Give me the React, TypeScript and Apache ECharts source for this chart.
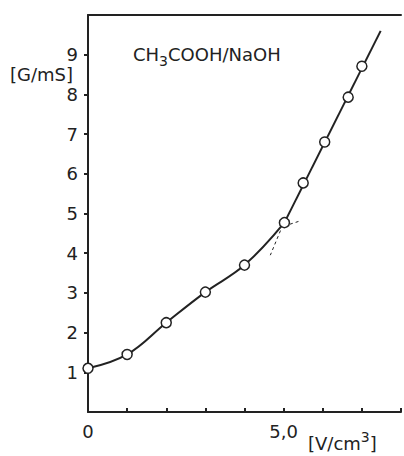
import React, { useEffect, useRef } from "react";
import * as echarts from "echarts";

const volume = [0, 1, 2, 3, 4, 5.02, 5.5, 6.05, 6.65, 7.0];
const conductance = [1.1, 1.45, 2.25, 3.02, 3.7, 4.77, 5.77, 6.8, 7.93, 8.71];
// end of the straight (post-equivalence) line
const steepEnd = [7.48, 9.6];
// short dashed extrapolations near the equivalence point
const steepExtension = [
  [4.92, 4.57],
  [4.66, 3.95],
];
const curveExtension = [
  [5.16, 4.73],
  [5.38, 4.8],
];
const xTickLabels: Record<number, string> = { 0: "0", 5: "5,0" };
const yTickLabels = [1, 2, 3, 4, 5, 6, 7, 8, 9];

const FONT = "'DejaVu Sans', sans-serif";
const INK = "#222";

export default function App() {
  const ref = useRef<HTMLDivElement>(null);
  useEffect(() => {
    if (!ref.current) return;
    const chart = echarts.init(ref.current, undefined, { renderer: "svg" });
    const points = volume.map((v, i) => [v, conductance[i]]);
    const lowerCurve = points.slice(0, 6);
    const steepLine = [points[5], steepEnd];
    chart.setOption({
      animation: false,
      backgroundColor: "#ffffff",
      title: {
        text: "{a|CH}{s|3}{a|COOH/NaOH}",
        left: 133,
        top: 45,
        padding: 0,
        textStyle: {
          fontWeight: "normal",
          rich: {
            a: { fontFamily: FONT, fontSize: 18, fontWeight: "normal", color: INK, lineHeight: 18, verticalAlign: "top" },
            s: { fontFamily: FONT, fontSize: 14, fontWeight: "normal", color: INK, lineHeight: 23, verticalAlign: "bottom" },
          },
        },
      },
      grid: { left: 88, right: 0, top: 15, bottom: 44 },
      xAxis: [
        {
          type: "value",
          min: 0,
          max: 8,
          interval: 1,
          axisLine: { show: true, lineStyle: { color: INK, width: 2 } },
          axisTick: { show: true, inside: true, length: 4, lineStyle: { color: INK, width: 2 } },
          axisLabel: {
            margin: 10,
            fontFamily: FONT,
            fontSize: 18,
            color: INK,
            formatter: (v: number) => xTickLabels[v] ?? "",
          },
          splitLine: { show: false },
        },
        {
          type: "value",
          position: "top",
          min: 0,
          max: 8,
          axisLine: { show: true, lineStyle: { color: INK, width: 2 } },
          axisTick: { show: false },
          axisLabel: { show: false },
          splitLine: { show: false },
        },
      ],
      yAxis: {
        type: "value",
        min: 0,
        max: 10,
        interval: 1,
        axisLine: { show: true, lineStyle: { color: INK, width: 2 } },
        axisTick: {
          show: true,
          inside: false,
          length: 4,
          customValues: yTickLabels,
          lineStyle: { color: INK, width: 2 },
        },
        axisLabel: {
          margin: 10,
          fontFamily: FONT,
          fontSize: 18,
          color: INK,
          formatter: (v: number) => (yTickLabels.includes(v) ? String(v) : ""),
        },
        splitLine: { show: false },
      },
      graphic: [
        {
          type: "text",
          left: 10,
          top: 65,
          style: { text: "[G/mS]", font: `18px ${FONT}`, fill: INK },
        },
        {
          type: "text",
          left: 308,
          top: 430,
          style: {
            text: "{a|[V/cm}{b|3}{a|]}",
            rich: {
              a: { fontFamily: FONT, fontSize: 18, fill: INK, color: INK, lineHeight: 18, verticalAlign: "bottom" },
              b: { fontFamily: FONT, fontSize: 14, fill: INK, color: INK, lineHeight: 22, verticalAlign: "top" },
            },
          },
        },
      ],
      series: [
        {
          type: "line",
          data: lowerCurve,
          smooth: 0.4,
          symbol: "none",
          lineStyle: { color: INK, width: 2 },
          z: 2,
        },
        {
          type: "line",
          data: steepLine,
          symbol: "none",
          lineStyle: { color: INK, width: 2 },
          z: 2,
        },
        {
          type: "line",
          data: steepExtension,
          symbol: "none",
          lineStyle: { color: INK, width: 1, type: [3, 3] },
          z: 2,
        },
        {
          type: "line",
          data: curveExtension,
          symbol: "none",
          lineStyle: { color: INK, width: 1, type: [3, 3] },
          z: 2,
        },
        {
          type: "scatter",
          data: points,
          symbol: "circle",
          symbolSize: 10,
          itemStyle: { color: "#ffffff", borderColor: INK, borderWidth: 1.5, opacity: 1 },
          z: 5,
        },
      ],
    });
    return () => chart.dispose();
  }, []);
  return (
    <div
      ref={ref}
      style={{ position: "fixed", left: 0, top: 0, width: 404, height: 456 }}
    />
  );
}
